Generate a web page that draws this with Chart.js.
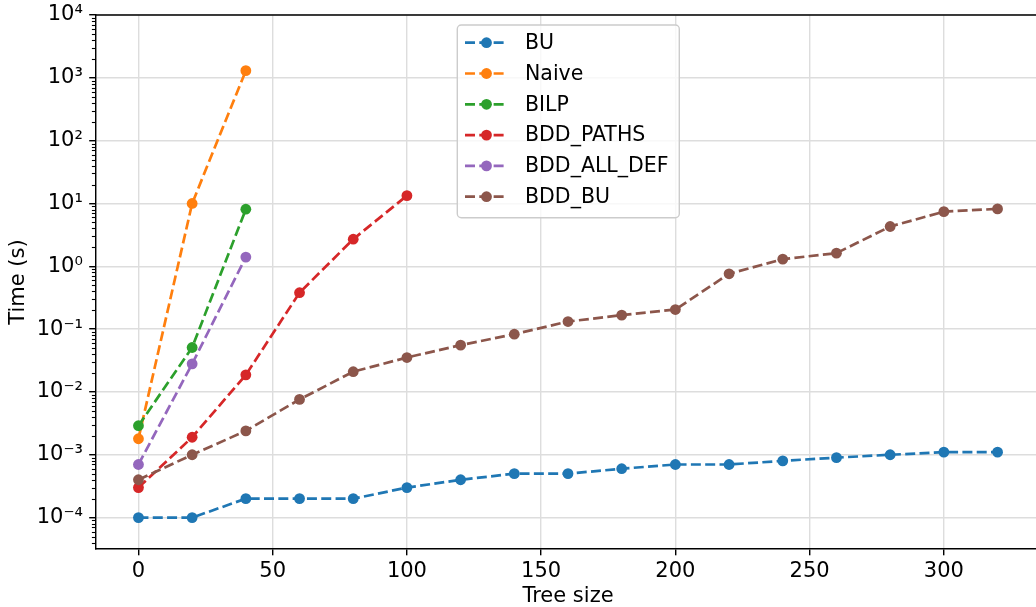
<!DOCTYPE html>
<html><head><meta charset="utf-8">
<script src="https://cdn.jsdelivr.net/npm/chart.js@4"></script>
<style>
html,body{margin:0;padding:0;overflow:hidden;background:#fff;width:1036px;height:607px}
#wrap{position:absolute;left:0;top:0;width:1050px;height:607px}
</style>
</head><body><div id="wrap"><canvas id="c" width="1050" height="607"></canvas></div>
<script>
// ---- data ----
const treeSizes = [0,20,40,60,80,100,120,140,160,180,200,220,240,260,280,300,320];
const seriesNames = ['BU','Naive','BILP','BDD_PATHS','BDD_ALL_DEF','BDD_BU'];
const buTimes = [1e-4,1e-4,2e-4,2e-4,2e-4,3e-4,4e-4,5e-4,5e-4,6e-4,7e-4,7e-4,8e-4,9e-4,1e-3,1.1e-3,1.1e-3];
const naiveTimes = [1.8e-3, 10, 1300];
const bilpTimes = [2.9e-3, 0.051, 8.1];
const bddPathsTimes = [3e-4, 1.9e-3, 0.0187, 0.38, 2.7, 13.3];
const bddAllDefTimes = [7e-4, 0.028, 1.4];
const bddBuTimes = [4e-4,1e-3,2.4e-3,7.6e-3,0.021,0.0353,0.0556,0.083,0.132,0.167,0.205,0.76,1.3,1.62,4.3,7.4,8.2];
const xTickValues = [0,50,100,150,200,250,300];
const yTickExponents = [-4,-3,-2,-1,0,1,2,3,4];
const supDigits = {'-':'\u207B','0':'\u2070','1':'\u00B9','2':'\u00B2','3':'\u00B3','4':'\u2074','5':'\u2075','6':'\u2076','7':'\u2077','8':'\u2078','9':'\u2079'};

const colors = ['#1f77b4','#ff7f0e','#2ca02c','#d62728','#9467bd','#8c564b'];
const allTimes = [buTimes, naiveTimes, bilpTimes, bddPathsTimes, bddAllDefTimes, bddBuTimes];

const S = 1.8; // px per pt
const LW = 1.5*S, DASH = [3.7*LW, 1.6*LW], MR = 3*S;
const FONT = 'DejaVu Sans';

Chart.defaults.color = '#000';
Chart.defaults.font.family = FONT;

const datasets = seriesNames.map((name, i) => ({
  label: name,
  data: allTimes[i].map((v, j) => ({x: treeSizes[j], y: v})),
  borderColor: colors[i],
  backgroundColor: colors[i],
  pointBackgroundColor: colors[i],
  pointBorderColor: colors[i],
  pointBorderWidth: 0,
  pointRadius: MR,
  pointHoverRadius: MR,
  borderWidth: LW,
  borderDash: DASH,
  tension: 0,
  fill: false,
  order: seriesNames.length - 1 - i
}));

const decorPlugin = {
  id: 'decor',
  afterDatasetsDraw(chart) {
    const ctx = chart.ctx, a = chart.chartArea, ys = chart.scales.y;
    ctx.save();
    // top spine
    ctx.strokeStyle = '#000'; ctx.lineWidth = 0.8*S;
    ctx.beginPath(); ctx.moveTo(a.left, a.top); ctx.lineTo(a.right, a.top); ctx.stroke();
    ctx.beginPath(); ctx.moveTo(a.right, a.top); ctx.lineTo(a.right, a.bottom); ctx.stroke();
    // minor ticks on y
    ctx.lineWidth = 0.6*S;
    for (let k = -6; k <= 5; k++) {
      for (let m = 2; m <= 9; m++) {
        const v = m*Math.pow(10,k);
        if (v < ys.min || v > ys.max) continue;
        const py = Math.round(ys.getPixelForValue(v)) + 0.5;
        ctx.beginPath(); ctx.moveTo(a.left - 2*S, py); ctx.lineTo(a.left, py); ctx.stroke();
      }
    }
    // legend
    const bx = 457.3, by = 25, bw = 222, bh = 192.7, r = 4;
    ctx.beginPath();
    ctx.moveTo(bx+r, by); ctx.lineTo(bx+bw-r, by); ctx.arcTo(bx+bw, by, bx+bw, by+r, r);
    ctx.lineTo(bx+bw, by+bh-r); ctx.arcTo(bx+bw, by+bh, bx+bw-r, by+bh, r);
    ctx.lineTo(bx+r, by+bh); ctx.arcTo(bx, by+bh, bx, by+bh-r, r);
    ctx.lineTo(bx, by+r); ctx.arcTo(bx, by, bx+r, by, r); ctx.closePath();
    ctx.fillStyle = 'rgba(255,255,255,0.8)'; ctx.fill();
    ctx.strokeStyle = '#cccccc'; ctx.lineWidth = 1.4; ctx.stroke();
    const rowY0 = 42.7, rowDy = 30.8;
    chart.data.datasets.forEach((ds, i) => {
      const yy = rowY0 + i*rowDy;
      ctx.strokeStyle = ds.borderColor; ctx.lineWidth = LW; ctx.setLineDash(DASH);
      ctx.beginPath(); ctx.moveTo(465, yy); ctx.lineTo(507.5, yy); ctx.stroke();
      ctx.setLineDash([]);
      ctx.fillStyle = ds.borderColor;
      ctx.beginPath(); ctx.arc(486.5, yy, MR, 0, Math.PI*2); ctx.fill();
      ctx.fillStyle = '#000'; ctx.font = '20.5px "' + FONT + '"';
      ctx.textBaseline = 'middle'; ctx.textAlign = 'left';
      ctx.fillText(ds.label, 525, yy + 1);
    });
    ctx.restore();
  }
};

new Chart(document.getElementById('c'), {
  type: 'line',
  data: {datasets},
  plugins: [decorPlugin],
  options: {
    responsive: false,
    devicePixelRatio: 1,
    animation: false,
    events: [],
    layout: {padding: {left: 0, right: 9.5, top: 15, bottom: 0}},
    plugins: {legend: {display: false}, tooltip: {enabled: false}},
    scales: {
      x: {
        type: 'linear', min: -16, max: 336,
        afterBuildTicks: s => { s.ticks = xTickValues.map(v => ({value: v})); },
        afterFit: s => { s.height = 58; s.paddingLeft = 0; s.paddingRight = 0; },
        ticks: {font: {size: 21}, padding: 3.5, maxRotation: 0, autoSkip: false, color: '#000'},
        grid: {color: '#dddddd', lineWidth: 1.4, tickLength: 3.5*S, tickColor: '#000', tickWidth: 0.8*S},
        border: {display: true, color: '#000', width: 0.8*S},
        title: {display: true, text: 'Tree size', font: {size: 21, lineHeight: 1}, padding: {top: 0, bottom: 0}, color: '#000'}
      },
      y: {
        type: 'logarithmic', min: Math.pow(10,-4.5), max: 1e4,
        afterBuildTicks: s => { s.ticks = yTickExponents.map(e => ({value: Math.pow(10,e), major: true})); },
        afterFit: s => { s.width = 95.5; s.paddingTop = 0; s.paddingBottom = 0; },
        ticks: {
          font: {size: 21}, padding: 3.5*S, autoSkip: false, color: '#000',
          callback: (v) => {
            const e = Math.round(Math.log10(v));
            const sup = String(e).split('').map(c => supDigits[c]).join('');
            return '10' + sup;
          }
        },
        grid: {color: '#dddddd', lineWidth: 1.4, tickLength: 3.5*S, tickColor: '#000', tickWidth: 0.8*S},
        border: {display: true, color: '#000', width: 0.8*S},
        title: {display: true, text: 'Time (s)', font: {size: 21, lineHeight: 1}, padding: {top: 8, bottom: 0}, color: '#000'}
      }
    }
  }
});
</script>
</body></html>
